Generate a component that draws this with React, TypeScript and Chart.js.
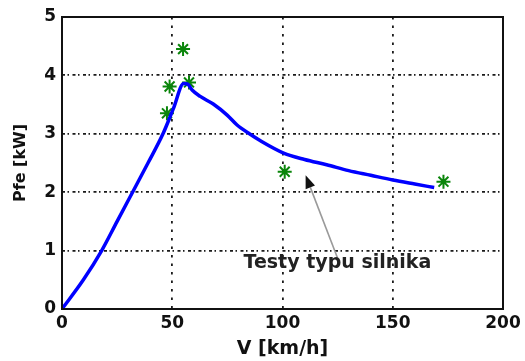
import React, { useEffect, useRef } from 'react';
import { Chart, registerables } from 'chart.js';

Chart.register(...registerables);

// Blue simulated curve: speed [km/h] vs iron losses [kW]
const speedKmh = [0, 9.7, 18, 25, 32, 39, 45.8, 50.5, 55.2, 57, 59, 62.7, 68.6, 74.9, 79.4, 85, 90, 100.5, 110, 120, 130, 140, 150, 160, 168.8];
const powerKw = [0, 0.5, 1.0, 1.5, 2.0, 2.5, 3.0, 3.43, 3.86, 3.85, 3.75, 3.64, 3.51, 3.32, 3.15, 3.0, 2.88, 2.67, 2.56, 2.47, 2.37, 2.29, 2.21, 2.14, 2.08];

// Green test points
const testSpeedKmh = [47.6, 48.8, 54.9, 57.6, 101, 173];
const testPowerKw = [3.35, 3.81, 4.45, 3.88, 2.35, 2.18];

const xTitle = 'V [km/h]';
const yTitle = 'Pfe [kW]';
const xMin = 0, xMax = 200, xStep = 50;
const yMin = 0, yMax = 5, yStep = 1;

// Annotation (in data coordinates)
const annotationText = 'Testy typu silnika';
const annotationTextAt = { x: 82.3, y: 0.79 };
const arrowTail = { x: 125, y: 0.87 };
const arrowHead = { x: 110.5, y: 2.29 };

const FONT = '"DejaVu Sans", "Liberation Sans", Arial, sans-serif';

const framePlugin = {
  id: 'frame',
  afterDatasetsDraw(chart: any) {
    const { ctx, chartArea } = chart;
    ctx.save();
    ctx.strokeStyle = '#111';
    ctx.lineWidth = 2;
    ctx.setLineDash([]);
    ctx.strokeRect(chartArea.left, chartArea.top, chartArea.right - chartArea.left, chartArea.bottom - chartArea.top);
    ctx.restore();
  },
};

const annotationPlugin = {
  id: 'annot',
  afterDraw(chart: any) {
    const { ctx } = chart;
    const xs = chart.scales.x;
    const ys = chart.scales.y;
    const tx = xs.getPixelForValue(arrowTail.x);
    const ty = ys.getPixelForValue(arrowTail.y);
    const hx = xs.getPixelForValue(arrowHead.x);
    const hy = ys.getPixelForValue(arrowHead.y);
    const ang = Math.atan2(hy - ty, hx - tx);
    const len = 13;
    const half = 5;
    const bx = hx - len * Math.cos(ang);
    const by = hy - len * Math.sin(ang);
    ctx.save();
    ctx.setLineDash([]);
    ctx.strokeStyle = '#9a9a9a';
    ctx.lineWidth = 1.6;
    ctx.beginPath();
    ctx.moveTo(tx, ty);
    ctx.lineTo(bx, by);
    ctx.stroke();
    ctx.fillStyle = '#111';
    ctx.beginPath();
    ctx.moveTo(hx, hy);
    ctx.lineTo(bx + half * Math.sin(ang), by - half * Math.cos(ang));
    ctx.lineTo(bx - half * Math.sin(ang), by + half * Math.cos(ang));
    ctx.closePath();
    ctx.fill();
    ctx.font = `bold 19px ${FONT}`;
    ctx.fillStyle = '#222';
    ctx.textAlign = 'left';
    ctx.textBaseline = 'middle';
    ctx.fillText(annotationText, xs.getPixelForValue(annotationTextAt.x), ys.getPixelForValue(annotationTextAt.y));
    ctx.restore();
  },
};

export default function App() {
  const ref = useRef<HTMLCanvasElement | null>(null);
  useEffect(() => {
    document.body.style.margin = '0';
    if (!ref.current) return;
    const chart = new Chart(ref.current, {
      type: 'scatter',
      data: {
        datasets: [
          {
            label: 'model',
            data: speedKmh.map((v, i) => ({ x: v, y: powerKw[i] })),
            showLine: true,
            borderColor: '#0000ff',
            borderWidth: 3.5,
            pointRadius: 0,
            cubicInterpolationMode: 'monotone',
            fill: false,
          },
          {
            label: 'testy',
            data: testSpeedKmh.map((v, i) => ({ x: v, y: testPowerKw[i] })),
            showLine: false,
            pointStyle: 'star',
            pointRadius: 7,
            borderColor: '#0a850a',
            backgroundColor: '#0a850a',
            pointBorderWidth: 2,
            borderWidth: 2,
          },
        ],
      },
      options: {
        animation: false,
        responsive: false,
        maintainAspectRatio: false,
        layout: { padding: { left: 0, top: 17, right: 22, bottom: 0 } },
        plugins: { legend: { display: false }, tooltip: { enabled: false } },
        scales: {
          x: {
            type: 'linear',
            min: xMin,
            max: xMax,
            afterFit: (s: any) => { s.height = 52; },
            ticks: { stepSize: xStep, color: '#111', padding: 4, font: { family: FONT, size: 17, weight: 'bold' } },
            grid: { color: '#1a1a1a', lineWidth: 1.8, drawTicks: false },
            border: { display: false, dash: [2.5, 6] },
            title: { display: true, text: xTitle, color: '#111', padding: { top: 0, bottom: 1 }, font: { family: FONT, size: 19, weight: 'bold' } },
          },
          y: {
            type: 'linear',
            min: yMin,
            max: yMax,
            afterFit: (s: any) => { s.width = 62; },
            ticks: { stepSize: yStep, color: '#111', padding: 6, font: { family: FONT, size: 17, weight: 'bold' } },
            grid: { color: '#1a1a1a', lineWidth: 1.8, drawTicks: false },
            border: { display: false, dash: [3, 2.5, 1.5, 3.5] },
            title: { display: true, text: yTitle, color: '#111', padding: { top: 11, bottom: 0 }, font: { family: FONT, size: 16, weight: 'bold' } },
          },
        },
      },
      plugins: [framePlugin, annotationPlugin],
    });
    return () => chart.destroy();
  }, []);
  return (
    <div style={{ width: 525, height: 361 }}>
      <canvas ref={ref} width={525} height={361} style={{ display: 'block' }} />
    </div>
  );
}
